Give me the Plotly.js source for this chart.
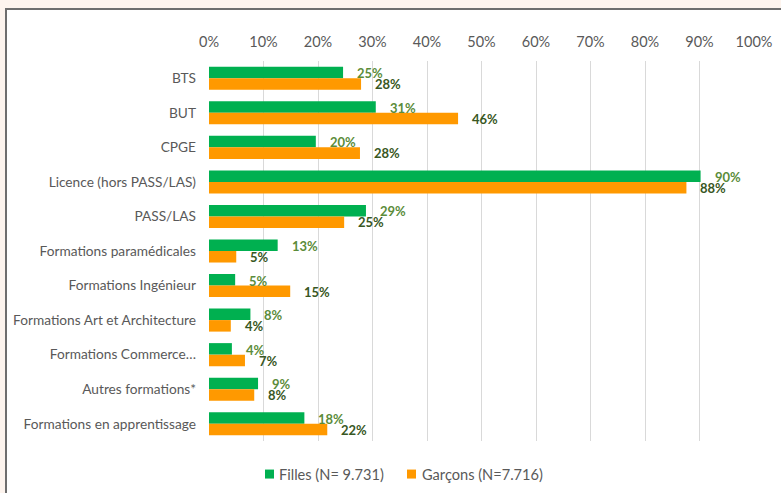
<!DOCTYPE html>
<html><head><meta charset="utf-8">
<script src="https://cdn.plot.ly/plotly-3.0.1.min.js"></script>
<style>
html,body{margin:0;padding:0;background:#fdf4ee;width:781px;height:493px;overflow:hidden;}
#wrap{position:absolute;left:5px;top:8px;width:776px;height:485px;background:#fff;border-left:2px solid #6e6e6e;border-top:2px solid #6e6e6e;}
#chart{position:absolute;left:0;top:0;width:776px;height:485px;}
</style></head>
<body><div id="wrap"><div id="chart"></div></div>
<script>
const categories = ["BTS","BUT","CPGE","Licence (hors PASS/LAS)","PASS/LAS","Formations paramédicales","Formations Ingénieur","Formations Art et Architecture","Formations Commerce…","Autres formations*","Formations en apprentissage"];
const filles = [24.6,30.6,19.6,90.2,28.8,12.6,4.8,7.6,4.2,9.0,17.5];
const garcons = [27.9,45.7,27.7,87.6,24.8,5.0,14.9,4.0,6.6,8.3,21.7];
const seriesNames = ["Filles (N= 9.731)","Garçons (N=7.716)"];
const seriesColors = ["#00b050","#ff9900"];
const tickVals = [0,10,20,30,40,50,60,70,80,90,100];
const tickText = tickVals.map(v => v + "%");

const font = "Lato, 'Open Sans', sans-serif";
const traces = [
  {type:"bar", orientation:"h", name:seriesNames[0], y:categories, x:filles, marker:{color:seriesColors[0]}, hoverinfo:"none"},
  {type:"bar", orientation:"h", name:seriesNames[1], y:categories, x:garcons, marker:{color:seriesColors[1]}, hoverinfo:"none"}
];
const annotations = [];
categories.forEach((c,i)=>{
  annotations.push({x:filles[i], y:c, xref:"x", yref:"y", text:Math.round(filles[i])+"%", showarrow:false, xanchor:"left", xshift:12, yshift:5, font:{family:font, size:13, color:"#5b8c3a", weight:"bold"}});
  annotations.push({x:garcons[i], y:c, xref:"x", yref:"y", text:Math.round(garcons[i])+"%", showarrow:false, xanchor:"left", xshift:12, yshift:-6, font:{family:font, size:13, color:"#385723", weight:"bold"}});
});
// custom legend (square + label) under the plot
const legendY = -0.087;
const legendSquareX = [0.111, 0.3716];
const legendTextX = [0.1248, 0.387];
const shapes = [];
seriesNames.forEach((n,k)=>{
  shapes.push({type:"rect", xref:"paper", yref:"paper", xsizemode:"pixel", ysizemode:"pixel", xanchor:legendSquareX[k], yanchor:legendY, x0:-4.5, x1:4.5, y0:-4.5, y1:4.5, fillcolor:seriesColors[k], line:{width:0}});
  annotations.push({xref:"paper", yref:"paper", x:legendTextX[k], y:legendY, xanchor:"left", yanchor:"middle", text:n, showarrow:false, font:{family:font, size:14.6, color:"#595959"}});
});
const layout = {
  width:776, height:485,
  margin:{l:202, r:29, t:51, b:54},
  paper_bgcolor:"#ffffff", plot_bgcolor:"#ffffff",
  barmode:"group", bargap:0.333, bargroupgap:0,
  font:{family:font, size:13, color:"#595959"},
  xaxis:{side:"top", range:[0,100], tickvals:tickVals, ticktext:tickText, showgrid:true, gridcolor:"#d9d9d9", gridwidth:1, zeroline:false, showline:false, ticks:"", ticklabelstandoff:10, tickfont:{size:14.5, color:"#595959"}, fixedrange:true},
  yaxis:{type:"category", autorange:"reversed", showgrid:false, zeroline:false, showline:false, ticks:"", ticklabelstandoff:12, tickfont:{size:13.7, color:"#595959"}},
  showlegend:false,
  shapes:shapes,
  annotations:annotations
};
Plotly.newPlot("chart", traces, layout, {displayModeBar:false, staticPlot:true});
</script></body></html>
